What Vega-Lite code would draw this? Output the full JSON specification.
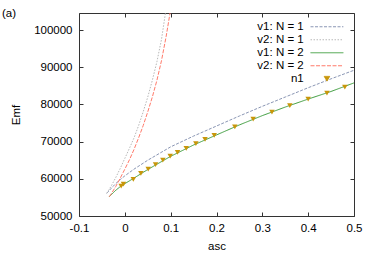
{
  "$schema": "https://vega.github.io/schema/vega-lite/v6.json",
  "width": 275,
  "height": 203,
  "autosize": {"type": "none"},
  "padding": {"left": 79, "top": 13, "right": 20, "bottom": 46},
  "config": {
    "font": "Liberation Sans",
    "view": {"stroke": null},
    "axis": {
      "grid": false,
      "labelFont": "Liberation Sans",
      "labelFontSize": 11.5,
      "labelColor": "#000",
      "domainColor": "#333",
      "tickColor": "#333",
      "tickSize": -4,
      "titleFont": "Liberation Sans",
      "titleFontSize": 11.5,
      "titleFontWeight": "normal",
      "titleColor": "#000"
    }
  },
  "title": {
    "text": "(a)",
    "anchor": "start",
    "frame": "group",
    "dx": -77,
    "dy": 13,
    "offset": 0,
    "baseline": "middle",
    "fontSize": 11.5,
    "fontWeight": "normal",
    "font": "Liberation Sans",
    "color": "#000"
  },
  "datasets": {
    "lines": [
      {"series": "v1: N = 1", "a": -0.0395, "E": 56100},
      {"series": "v1: N = 1", "a": -0.03, "E": 57400},
      {"series": "v1: N = 1", "a": -0.02, "E": 58700},
      {"series": "v1: N = 1", "a": -0.01, "E": 59800},
      {"series": "v1: N = 1", "a": 0.0, "E": 60800},
      {"series": "v1: N = 1", "a": 0.02, "E": 62600},
      {"series": "v1: N = 1", "a": 0.05, "E": 65000},
      {"series": "v1: N = 1", "a": 0.1, "E": 68600},
      {"series": "v1: N = 1", "a": 0.15, "E": 71500},
      {"series": "v1: N = 1", "a": 0.2, "E": 74200},
      {"series": "v1: N = 1", "a": 0.25, "E": 76900},
      {"series": "v1: N = 1", "a": 0.3, "E": 79500},
      {"series": "v1: N = 1", "a": 0.35, "E": 82000},
      {"series": "v1: N = 1", "a": 0.4, "E": 84500},
      {"series": "v1: N = 1", "a": 0.45, "E": 86900},
      {"series": "v1: N = 1", "a": 0.5, "E": 89200},
      {"series": "v2: N = 1", "a": -0.0395, "E": 56100},
      {"series": "v2: N = 1", "a": -0.03, "E": 58000},
      {"series": "v2: N = 1", "a": -0.02, "E": 60300},
      {"series": "v2: N = 1", "a": -0.01, "E": 62800},
      {"series": "v2: N = 1", "a": 0.0, "E": 65500},
      {"series": "v2: N = 1", "a": 0.01, "E": 68200},
      {"series": "v2: N = 1", "a": 0.02, "E": 71000},
      {"series": "v2: N = 1", "a": 0.03, "E": 74300},
      {"series": "v2: N = 1", "a": 0.04, "E": 78000},
      {"series": "v2: N = 1", "a": 0.05, "E": 82000},
      {"series": "v2: N = 1", "a": 0.06, "E": 86500},
      {"series": "v2: N = 1", "a": 0.07, "E": 91500},
      {"series": "v2: N = 1", "a": 0.08, "E": 97500},
      {"series": "v2: N = 1", "a": 0.0885, "E": 104500},
      {"series": "v2: N = 1", "a": 0.09, "E": 105800},
      {"series": "v1: N = 2", "a": -0.034, "E": 55200},
      {"series": "v1: N = 2", "a": -0.02, "E": 56900},
      {"series": "v1: N = 2", "a": -0.01, "E": 57900},
      {"series": "v1: N = 2", "a": 0.0, "E": 58700},
      {"series": "v1: N = 2", "a": 0.02, "E": 60200},
      {"series": "v1: N = 2", "a": 0.05, "E": 62500},
      {"series": "v1: N = 2", "a": 0.1, "E": 66050},
      {"series": "v1: N = 2", "a": 0.15, "E": 69100},
      {"series": "v1: N = 2", "a": 0.2, "E": 71800},
      {"series": "v1: N = 2", "a": 0.25, "E": 74500},
      {"series": "v1: N = 2", "a": 0.3, "E": 77000},
      {"series": "v1: N = 2", "a": 0.35, "E": 79300},
      {"series": "v1: N = 2", "a": 0.4, "E": 81450},
      {"series": "v1: N = 2", "a": 0.45, "E": 83500},
      {"series": "v1: N = 2", "a": 0.5, "E": 85800},
      {"series": "v2: N = 2", "a": -0.034, "E": 55200},
      {"series": "v2: N = 2", "a": -0.03, "E": 55900},
      {"series": "v2: N = 2", "a": -0.02, "E": 57900},
      {"series": "v2: N = 2", "a": -0.01, "E": 60200},
      {"series": "v2: N = 2", "a": 0.0, "E": 62600},
      {"series": "v2: N = 2", "a": 0.01, "E": 65100},
      {"series": "v2: N = 2", "a": 0.02, "E": 67900},
      {"series": "v2: N = 2", "a": 0.03, "E": 71000},
      {"series": "v2: N = 2", "a": 0.04, "E": 74300},
      {"series": "v2: N = 2", "a": 0.05, "E": 78000},
      {"series": "v2: N = 2", "a": 0.06, "E": 82000},
      {"series": "v2: N = 2", "a": 0.07, "E": 86500},
      {"series": "v2: N = 2", "a": 0.08, "E": 91800},
      {"series": "v2: N = 2", "a": 0.09, "E": 98200},
      {"series": "v2: N = 2", "a": 0.0985, "E": 104500},
      {"series": "v2: N = 2", "a": 0.1, "E": 105700}
    ],
    "pts": [
      {"series": "n1", "a": -0.008, "E": 58050},
      {"series": "n1", "a": -0.003, "E": 58600},
      {"series": "n1", "a": 0.0185, "E": 59870},
      {"series": "n1", "a": 0.035, "E": 61480},
      {"series": "n1", "a": 0.051, "E": 62630},
      {"series": "n1", "a": 0.067, "E": 63790},
      {"series": "n1", "a": 0.083, "E": 65050},
      {"series": "n1", "a": 0.099, "E": 66130},
      {"series": "n1", "a": 0.115, "E": 67120},
      {"series": "n1", "a": 0.134, "E": 68200},
      {"series": "n1", "a": 0.155, "E": 69440},
      {"series": "n1", "a": 0.175, "E": 70620},
      {"series": "n1", "a": 0.195, "E": 71690},
      {"series": "n1", "a": 0.24, "E": 74000},
      {"series": "n1", "a": 0.28, "E": 76080},
      {"series": "n1", "a": 0.321, "E": 77960},
      {"series": "n1", "a": 0.36, "E": 79700},
      {"series": "n1", "a": 0.4, "E": 81450},
      {"series": "n1", "a": 0.441, "E": 83060},
      {"series": "n1", "a": 0.48, "E": 84680}
    ]
  },
  "layer": [
    {
      "data": {"name": "lines"},
      "mark": {"type": "line", "clip": true, "strokeWidth": 1},
      "encoding": {
        "x": {
          "field": "a", "type": "quantitative",
          "scale": {"domain": [-0.1, 0.5], "nice": false, "zero": false},
          "axis": {"orient": "bottom", "title": "asc", "values": [-0.1, 0, 0.1, 0.2, 0.3, 0.4, 0.5], "format": "~g", "labelExpr": "replace(datum.label, '\u2212', '-')", "labelPadding": 10, "titlePadding": 7, "labelFlush": false}
        },
        "y": {
          "field": "E", "type": "quantitative",
          "scale": {"domain": [50000, 104600], "nice": false, "zero": false},
          "axis": {"orient": "left", "title": "Emf", "values": [50000, 60000, 70000, 80000, 90000, 100000], "format": "d", "labelPadding": 11, "titlePadding": 12}
        },
        "color": {
          "field": "series", "type": "nominal",
          "scale": {
            "domain": ["v1: N = 1", "v2: N = 1", "v1: N = 2", "v2: N = 2", "n1"],
            "range": ["#8a96b4", "#b8b8b8", "#3c9c3c", "#ff7a6a", "#c8960a"]
          },
          "legend": {
            "title": null,
            "orient": "none",
            "legendX": 242.2,
            "legendY": 8,
            "padding": 0,
            "rowPadding": 0,
            "labelFont": "Liberation Sans",
            "labelFontSize": 11.5,
            "labelColor": "#000",
            "labelAlign": "right",
            "labelOffset": -29,
            "symbolSize": 30,
            "symbolStrokeWidth": 1,
            "encode": {
              "symbols": {
                "update": {
                  "shape": {"signal": "datum.value === 'n1' ? 'triangle-down' : 'M-6,0H6'"},
                  "strokeDash": {"signal": "datum.value === 'v1: N = 1' ? [3,1.5] : datum.value === 'v2: N = 1' ? [1.5,1.5] : datum.value === 'v2: N = 2' ? [4,1.5] : [1,0]"},
                  "fill": {"signal": "datum.value === 'n1' ? '#c8960a' : 'transparent'"},
                  "stroke": {"signal": "datum.value === 'n1' ? 'transparent' : scale('color', datum.value)"},
                  "strokeWidth": {"value": 1},
                  "opacity": {"value": 1}
                }
              }
            }
          }
        },
        "strokeDash": {
          "field": "series", "type": "nominal",
          "scale": {
            "domain": ["v1: N = 1", "v2: N = 1", "v1: N = 2", "v2: N = 2"],
            "range": [[3, 1.5], [1.5, 1.5], [1, 0], [4, 1.5]]
          },
          "legend": null
        }
      }
    },
    {
      "data": {"name": "pts"},
      "mark": {"type": "point", "shape": "triangle-down", "filled": true, "size": 30, "opacity": 1, "clip": true},
      "encoding": {
        "x": {
          "field": "a", "type": "quantitative",
          "axis": {"orient": "top", "labels": false, "title": null, "values": [-0.1, 0, 0.1, 0.2, 0.3, 0.4, 0.5]}
        },
        "y": {
          "field": "E", "type": "quantitative",
          "axis": {"orient": "right", "labels": false, "title": null, "values": [50000, 60000, 70000, 80000, 90000, 100000]}
        },
        "color": {"field": "series", "type": "nominal"}
      }
    }
  ],
  "resolve": {"axis": {"x": "independent", "y": "independent"}}
}
